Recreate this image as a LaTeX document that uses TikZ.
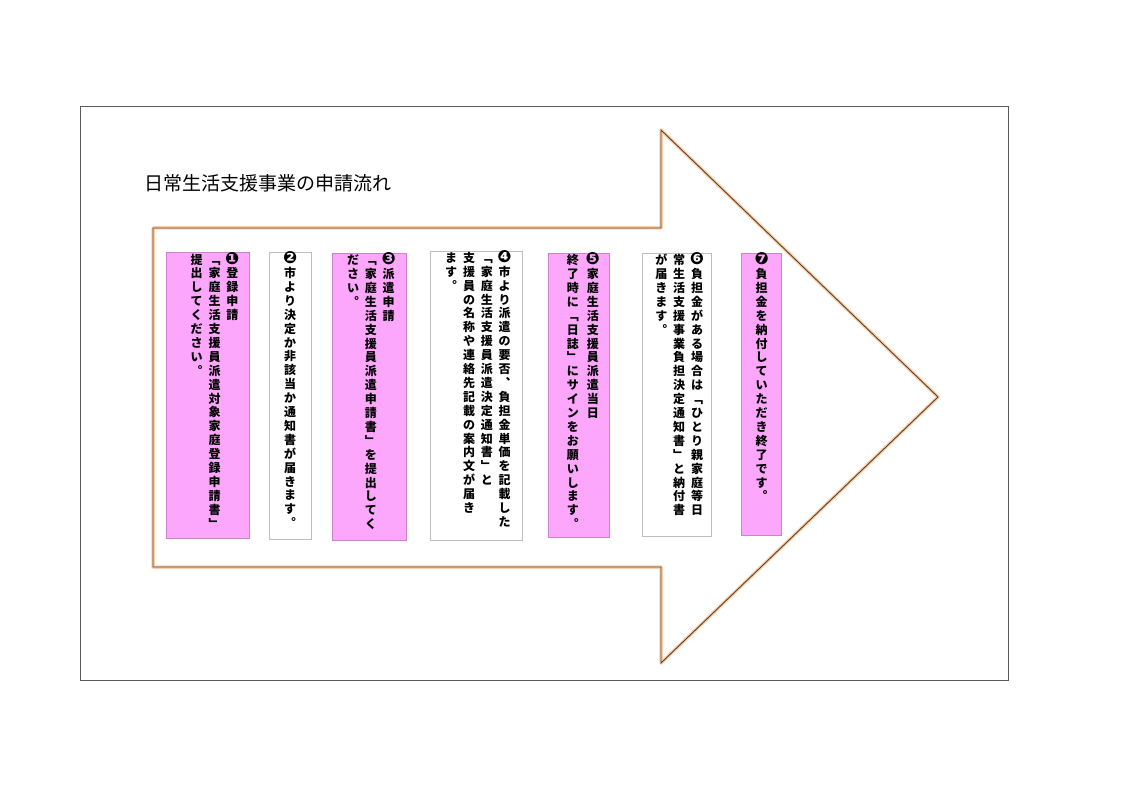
\documentclass[tikz,border=0pt]{standalone}
\usepackage{fontspec}
\setmainfont{Noto Sans CJK JP}
\newfontfamily\symfont[Scale=1.4]{DejaVu Sans}
\usepackage{tkz-euclide}
\usetikzlibrary{calc}
\definecolor{ArrowClr}{RGB}{92,62,40}
\definecolor{GlowClr}{RGB}{250,208,170}
\definecolor{PinkClr}{RGB}{252,166,252}
\definecolor{FrameClr}{RGB}{90,90,90}
\definecolor{EdgeClr}{RGB}{190,190,190}

% one cell per character, columns run top to bottom
\newlength\tatew \setlength\tatew{12pt}
\newlength\tatep \setlength\tatep{13.9pt}
\newcommand\tcell[1]{\vbox to\tatep{\vss\hbox to\tatew{\hss\vphantom{国}\smash{#1}\hss}\vss}}
\ExplSyntaxOn
\NewDocumentCommand\tate{m}{\vtop{\offinterlineskip\tl_map_inline:nn{#1}{\tcell{##1}}}}
\ExplSyntaxOff
\newcommand\cgap{\hskip5.8pt}
\newcommand\tcols[3][0pt]{\vbox to#2{\hbox{\kern#1#3}\vss}}

\tikzset{
  pinkbox/.style={fill=PinkClr,draw=PinkClr!80!black,line width=.5pt,inner sep=0pt,
    font=\fontsize{12}{12}\selectfont\bfseries},
  whitebox/.style={fill=white,draw=EdgeClr,line width=.8pt,inner sep=0pt,
    font=\fontsize{12}{12}\selectfont\bfseries}
}

\begin{document}
\begin{tikzpicture}[x=1pt,y=-1pt]
\useasboundingbox (0,0) rectangle (1123,794);
\fill[white] (0,0) rectangle (1123,794);

\draw[FrameClr,line width=1pt] (80,107) rectangle (1008,680);

\tkzDefPoints{153/228/A,661/228/B,661/130/C,938/397/D,661/663/E,661/567/F,153/567/G}

\tkzDrawPolygon[GlowClr,line width=3.5pt,line join=round](A,B,C,D,E,F,G)
\tkzDrawPolygon[ArrowClr,line width=.9pt,line join=miter](A,B,C,D,E,F,G)

\node[anchor=west,font=\fontsize{19}{19}\selectfont] (title) at (141,183) {日常生活支援事業の申請流れ};

\node[pinkbox,minimum width=82.6,minimum height=285.6] (s1) at (208,395.5)
  {\tcols[13pt]{285.6pt}{\tate{提出してください︒}\cgap\tate{﹁家庭生活支援員派遣対象家庭登録申請書﹂}\cgap\tate{{\symfont ❶}登録申請}}};
\node[whitebox,minimum width=41.7,minimum height=286.7] (s2) at (290.2,395.7)
  {\tcols{286.7pt}{\tate{{\symfont ❷}市より決定か非該当か通知書が届きます︒}}};
\node[pinkbox,minimum width=74.3,minimum height=286.7] (s3) at (368.9,396.7)
  {\tcols[4pt]{286.7pt}{\tate{ださい︒}\cgap\tate{﹁家庭生活支援員派遣申請書﹂を提出してく}\cgap\tate{{\symfont ❸}派遣申請}}};
\node[whitebox,minimum width=92.7,minimum height=289] (s4) at (476.4,395.5)
  {\tcols[3pt]{289pt}{\tate{ます︒}\cgap\tate{支援員の名称や連絡先記載の案内文が届き}\cgap\tate{﹁家庭生活支援員派遣決定通知書﹂と}\cgap\tate{{\symfont ❹}市より派遣の要否︑負担金単価を記載した}}};
\node[pinkbox,minimum width=61,minimum height=284.4] (s5) at (578.8,395.5)
  {\tcols[8pt]{284.4pt}{\tate{終了時に﹁日誌﹂にサインをお願いします︒}\hskip8pt\tate{{\symfont ❺}家庭生活支援員派遣当日}}};
\node[whitebox,minimum width=69,minimum height=282.7] (s6) at (677.2,394.7)
  {\tcols[4pt]{282.7pt}{\tate{が届きます︒}\cgap\tate{常生活支援事業負担決定通知書﹂と納付書}\cgap\tate{{\symfont ❻}負担金がある場合は﹁ひとり親家庭等日}}};
\node[pinkbox,minimum width=40,minimum height=281.7] (s7) at (761.7,394.2)
  {\tcols{281.7pt}{\tate{{\symfont ❼}負担金を納付していただき終了です︒}}};

\end{tikzpicture}
\end{document}
